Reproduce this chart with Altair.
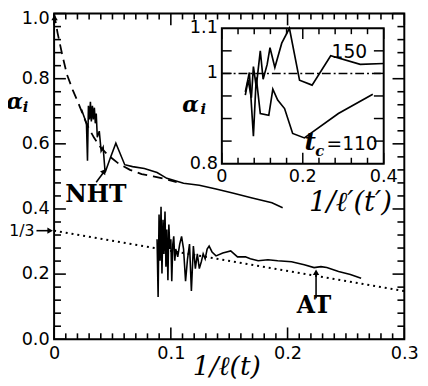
import altair as alt
import pandas as pd

# ---------------- main panel data ----------------
nht_x = [0.0235, 0.0277, 0.0286, 0.0294, 0.0303, 0.0311, 0.0319, 0.0328, 0.0336, 0.0345,
         0.0353, 0.0361, 0.0370, 0.0387, 0.0403, 0.0420, 0.0437, 0.0479, 0.0529, 0.0605,
         0.0672, 0.0773, 0.0882, 0.0966, 0.1109, 0.1244, 0.1387, 0.1529, 0.1697, 0.1866, 0.1958]
nht_y = [0.705, 0.663, 0.548, 0.717, 0.675, 0.729, 0.669, 0.717, 0.675, 0.711,
         0.663, 0.693, 0.620, 0.639, 0.578, 0.590, 0.512, 0.554, 0.602, 0.536,
         0.530, 0.524, 0.512, 0.494, 0.479, 0.473, 0.461, 0.449, 0.434, 0.419, 0.404]

at_x = [0.0882, 0.0891, 0.0899, 0.0908, 0.0916, 0.0924, 0.0933, 0.0941, 0.0950, 0.0958,
        0.0966, 0.0975, 0.0983, 0.0992, 0.1000, 0.1008, 0.1017, 0.1025, 0.1034, 0.1042,
        0.1059, 0.1076, 0.1092, 0.1109, 0.1126, 0.1143, 0.1160, 0.1176, 0.1193, 0.1210,
        0.1227, 0.1244, 0.1261, 0.1277, 0.1294, 0.1311, 0.1328, 0.1353, 0.1387, 0.1445,
        0.1513, 0.1571, 0.1639, 0.1681, 0.1748, 0.1832, 0.1916, 0.2034, 0.2143, 0.2227,
        0.2286, 0.2336, 0.2437, 0.2538, 0.2630]
at_y = [0.307, 0.130, 0.383, 0.241, 0.407, 0.202, 0.367, 0.262, 0.392, 0.223,
        0.337, 0.181, 0.352, 0.277, 0.307, 0.178, 0.292, 0.316, 0.241, 0.277,
        0.253, 0.292, 0.316, 0.277, 0.178, 0.247, 0.292, 0.148, 0.286, 0.217,
        0.262, 0.217, 0.238, 0.262, 0.247, 0.277, 0.286, 0.268, 0.256, 0.265,
        0.271, 0.253, 0.253, 0.247, 0.241, 0.244, 0.241, 0.238, 0.229, 0.220,
        0.223, 0.220, 0.208, 0.199, 0.187]

fit_x = [0.0, 0.003, 0.007, 0.011, 0.016, 0.021, 0.028, 0.034, 0.040, 0.047, 0.055,
         0.065, 0.075, 0.085, 0.095, 0.105]
fit_y = [1.0, 0.94, 0.873, 0.813, 0.765, 0.723, 0.66, 0.62, 0.588, 0.563, 0.54,
         0.52, 0.507, 0.50, 0.492, 0.482]

dot_x = [0.0, 0.3]
dot_y = [1 / 3, 0.148]

# ---------------- inset data ----------------
c150_x = [0.058, 0.065, 0.073, 0.078, 0.085, 0.095, 0.102, 0.112, 0.119, 0.131, 0.148,
          0.167, 0.192, 0.223, 0.269, 0.342, 0.400]
c150_y = [0.952, 0.985, 0.946, 1.015, 0.970, 1.050, 0.987, 1.020, 1.057, 1.013, 1.067,
          1.100, 0.985, 0.974, 1.039, 1.020, 1.022]
c110_x = [0.058, 0.068, 0.078, 0.085, 0.095, 0.116, 0.126, 0.138, 0.155, 0.175, 0.204,
          0.288, 0.373]
c110_y = [0.959, 1.002, 0.861, 0.991, 0.911, 0.907, 0.965, 0.941, 0.922, 0.867, 0.857,
          0.911, 0.954]
ref_x = [0.0, 0.4]
ref_y = [1.0, 1.0]

# ---------------- ticks ----------------
main_x_major = [0.0, 0.1, 0.2, 0.3]
main_x_minor = [round(0.01 * i, 2) for i in range(1, 30) if i % 10]
main_y_major = [0.0, 0.2, 0.4, 0.6, 0.8, 1.0]
main_y_minor = [round(0.04 * i, 2) for i in range(1, 25) if i % 5]
inset_x_major = [0.0, 0.2, 0.4]
inset_x_minor = [0.04, 0.08, 0.12, 0.16, 0.24, 0.28, 0.32, 0.36]
inset_y_ticks = [0.85, 0.9, 0.95, 1.0, 1.05]
inset_x_labels = ["0", "0.2", "0.4"]
inset_y_vals = [0.8, 1.0, 1.1]
inset_y_labels = ["0.8", "1", "1.1"]

# ---------------- scales / axes ----------------
XM = alt.Scale(domain=[0, 0.3], nice=False, zero=False)
YM = alt.Scale(domain=[0, 1], nice=False, zero=False)
XI = alt.Scale(domain=[0, 0.4], range=[171, 336], nice=False, zero=False)
YI = alt.Scale(domain=[0.8, 1.1], range=[153, 15], nice=False, zero=False)

AXX = alt.Axis(values=main_x_major, format="~g", labelFont="DejaVu Sans", labelFontSize=18,
               labelColor="black", ticks=False, tickSize=0, domain=False, grid=False,
               labelPadding=6, title=None, labelOverlap=False, labelFlush=False)
AXY = alt.Axis(values=main_y_major, format=".1f", labelFont="DejaVu Sans", labelFontSize=18,
               labelColor="black", ticks=False, tickSize=0, domain=False, grid=False,
               labelPadding=5, title=None, labelOverlap=False, labelFlush=False,
               labelOffset={"condition": {"test": "datum.value > 0.99", "value": 5},
                            "value": 0})


def enc_x(field, inset):
    return alt.X(field, type="quantitative", scale=XI if inset else XM,
                 axis=None if inset else AXX)


def enc_y(field, inset):
    return alt.Y(field, type="quantitative", scale=YI if inset else YM,
                 axis=None if inset else AXY)


def dx_(v, inset):
    return alt.XDatum(v, type="quantitative", scale=XI if inset else XM,
                      axis=None if inset else AXX)


def dy_(v, inset):
    return alt.YDatum(v, type="quantitative", scale=YI if inset else YM,
                      axis=None if inset else AXY)


def line(xs, ys, inset, width=1.7, dash=None):
    df = pd.DataFrame({"x": xs, "y": ys, "i": list(range(len(xs)))})
    kw = dict(color="black", strokeWidth=width)
    if dash is not None:
        kw["strokeDash"] = dash
    return alt.Chart(df).mark_line(**kw).encode(
        x=enc_x("x", inset), y=enc_y("y", inset), order="i:Q")


def xticks(vals, length, at_lo, at_hi, inset, width=1.6):
    df = pd.DataFrame({"v": vals})
    bottom = alt.Chart(df).mark_rule(color="black", strokeWidth=width, y2Offset=-length).encode(
        x=enc_x("v", inset), y=dy_(at_lo, inset), y2=alt.Y2Datum(at_lo))
    top = alt.Chart(df).mark_rule(color="black", strokeWidth=width, y2Offset=length).encode(
        x=enc_x("v", inset), y=dy_(at_hi, inset), y2=alt.Y2Datum(at_hi))
    return [bottom, top]


def yticks(vals, length, at_lo, at_hi, inset, width=1.6):
    df = pd.DataFrame({"v": vals})
    left = alt.Chart(df).mark_rule(color="black", strokeWidth=width, x2Offset=length).encode(
        y=enc_y("v", inset), x=dx_(at_lo, inset), x2=alt.X2Datum(at_lo))
    right = alt.Chart(df).mark_rule(color="black", strokeWidth=width, x2Offset=-length).encode(
        y=enc_y("v", inset), x=dx_(at_hi, inset), x2=alt.X2Datum(at_hi))
    return [left, right]


def text(xs, ys, labels, inset, **kw):
    df = pd.DataFrame({"x": xs, "y": ys, "t": labels})
    base = dict(color="black")
    base.update(kw)
    return alt.Chart(df).mark_text(**base).encode(
        x=enc_x("x", inset), y=enc_y("y", inset), text="t:N")


def seg(x0, y0, x1, y1, inset, width=1.6):
    df = pd.DataFrame({"x": [x0], "y": [y0], "x2": [x1], "y2": [y1]})
    return alt.Chart(df).mark_rule(color="black", strokeWidth=width).encode(
        x=enc_x("x", inset), y=enc_y("y", inset), x2="x2:Q", y2="y2:Q")


def head(x, y, angle, inset, size=42):
    df = pd.DataFrame({"x": [x], "y": [y]})
    return alt.Chart(df).mark_point(shape="triangle-up", filled=True, color="black",
                                    opacity=1, size=size, angle=angle).encode(
        x=enc_x("x", inset), y=enc_y("y", inset))


serif = "DejaVu Serif"
sans = "DejaVu Sans"

# ---------------- main layers ----------------
main_layers = [
    line(dot_x, dot_y, False, width=2.0, dash=[2, 4]),
    line(fit_x, fit_y, False, width=1.8, dash=[10, 6]),
    line(nht_x, nht_y, False, width=1.6),
    line(at_x, at_y, False, width=1.6),
]
main_layers += xticks(main_x_major, 12, 0.0, 1.0, False)
main_layers += xticks(main_x_minor, 6, 0.0, 1.0, False)
main_layers += yticks(main_y_major, 12, 0.0, 0.3, False)
main_layers += yticks(main_y_minor, 7, 0.0, 0.3, False)
main_layers += [
    # arrows
    seg(-0.0151, 1 / 3, -0.004, 1 / 3, False),
    head(-0.0034, 1 / 3, 90, False),
    seg(0.0361, 0.482, 0.0429, 0.515, False),
    head(0.0429, 0.516, 35, False),
    seg(0.2244, 0.126, 0.2244, 0.20, False),
    head(0.2244, 0.206, 0, False),
    head(0.0004, 0.988, 0, False),
    # labels
    text([-0.0168], [1 / 3], ["1/3"], False, font=sans, fontSize=16, align="right",
         baseline="middle"),
    text([0.0357], [0.444], ["NHT"], False, font=serif, fontSize=24, fontWeight="bold",
         align="center", baseline="middle"),
    text([0.2227], [0.101], ["AT"], False, font=serif, fontSize=24, fontWeight="bold",
         align="center", baseline="middle"),
    text([-0.0336], [0.727], ["α"], False, font=serif, fontSize=22, fontWeight="bold",
         fontStyle="italic", align="center", baseline="middle"),
    text([-0.0244], [0.713], ["i"], False, font=serif, fontSize=15, fontWeight="bold",
         fontStyle="italic", align="center", baseline="middle"),
    text([0.148], [-0.086], ["1/ℓ(t)"], False, font=serif, fontSize=27, fontStyle="italic",
         align="center", baseline="middle"),
]
main = alt.layer(*main_layers)

# ---------------- inset layers ----------------
box = pd.DataFrame({"x0": [0.0], "x1": [0.4], "y0": [0.8], "y1": [1.1]})
inset_layers = [
    alt.Chart(box).mark_rect(fill="white", stroke="black", strokeWidth=2).encode(
        x=enc_x("x0", True), x2="x1:Q", y=enc_y("y0", True), y2="y1:Q"),
    line(ref_x, ref_y, True, width=1.5, dash=[9, 3, 2, 3]),
    line(c150_x, c150_y, True, width=1.7),
    line(c110_x, c110_y, True, width=1.7),
]
inset_layers += xticks(inset_x_major, 11, 0.8, 1.1, True, width=1.5)
inset_layers += xticks(inset_x_minor, 6, 0.8, 1.1, True, width=1.5)
inset_layers += yticks(inset_y_ticks, 10, 0.0, 0.4, True, width=1.5)
inset_layers += [
    text(inset_x_major, [0.771] * 3, inset_x_labels, True, font=sans, fontSize=18,
         align="center", baseline="middle"),
    text([0.0] * 3, inset_y_vals, inset_y_labels, True, font=sans, fontSize=18,
         align="right", baseline="middle", dx=-4),
    text([0.315], [1.048], ["150"], True, font=sans, fontSize=19, align="center",
         baseline="middle"),
    text([0.218], [0.848], ["t"], True, font=serif, fontSize=25, fontWeight="bold",
         fontStyle="italic", align="center", baseline="middle"),
    text([0.242], [0.828], ["c"], True, font=serif, fontSize=15, fontWeight="bold",
         fontStyle="italic", align="center", baseline="middle"),
    text([0.322], [0.843], ["=110"], True, font=sans, fontSize=19, align="center",
         baseline="middle"),
    text([-0.0776], [0.930], ["α"], True, font=serif, fontSize=22, fontWeight="bold",
         fontStyle="italic", align="center", baseline="middle"),
    text([-0.046], [0.922], ["i"], True, font=serif, fontSize=15, fontWeight="bold",
         fontStyle="italic", align="center", baseline="middle"),
    text([0.318], [0.712], ["1/ℓ′(t′)"], True, font=serif, fontSize=28, fontStyle="italic",
         align="center", baseline="middle"),
]
inset = alt.layer(*inset_layers)

chart = alt.layer(main, inset).resolve_scale(
    x="independent", y="independent"
).properties(
    width=357, height=332,
    padding={"left": 47, "top": 2, "right": 16, "bottom": 44},
    autosize=alt.AutoSizeParams(type="none"),
).configure_view(stroke="black", strokeWidth=2)

chart.save("out.html", embed_options={"renderer": "svg", "actions": False})
